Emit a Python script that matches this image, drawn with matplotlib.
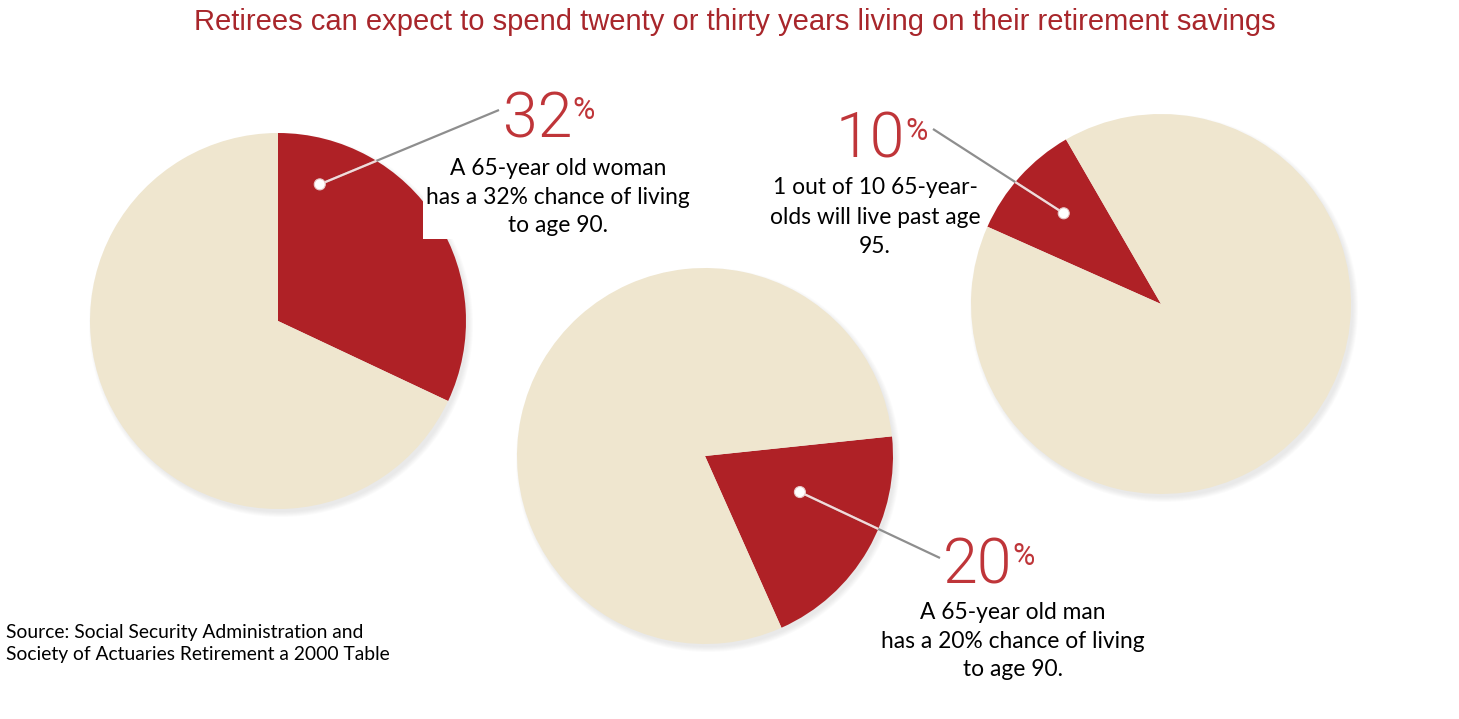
import matplotlib
matplotlib.use("Agg")
import matplotlib.pyplot as plt
from matplotlib.patches import Circle
import numpy as np

# ---- data ----
shares = [32, 20, 10]                       # percent in red slice
big_labels = ["32", "20", "10"]
descriptions = [
    "A 65-year old woman\nhas a 32% chance of living\nto age 90.",
    "A 65-year old man\nhas a 20% chance of living\nto age 90.",
    "1 out of 10 65-year-\nolds will live past age\n95.",
]
title = "Retirees can expect to spend twenty or thirty years living on their retirement savings"
source = "Source: Social Security Administration and\nSociety of Actuaries Retirement a 2000 Table"

# ---- layout / style ----
W, H = 1459, 719
RED = "#AF2126"
BEIGE = "#EFE6CF"
LABEL_RED = "#BF3539"
GRAY = "#8E8E8E"

def Y(y):
    return H - y

pies = [
    dict(center=(278, Y(321)), radius=188, start=90, ccw=False,
         dot=(73, 0.76), label_end=(499, Y(110)),
         big_xy=(503, Y(137)), desc_xy=(558, Y(158)), ls=1.45, box=True),
    dict(center=(705, Y(456)), radius=188, start=6, ccw=False,
         dot=(-20.8, 0.54), label_end=(940, Y(558)),
         big_xy=(943, Y(583)), desc_xy=(1013, Y(602)), ls=1.45, box=False),
    dict(center=(1161, Y(304)), radius=190, start=120, ccw=True,
         dot=(137, 0.70), label_end=(933, Y(129)),
         big_xy=(836, Y(158)), desc_xy=(875, Y(177)), ls=1.5, box=False),
]

fig = plt.figure(figsize=(W / 100, H / 100), dpi=100)
ax = fig.add_axes([0, 0, 1, 1])

for i, p in enumerate(pies):
    cx, cy = p["center"]
    r = p["radius"]
    # soft shadow
    for k in range(6):
        ax.add_patch(Circle((cx + 3, cy - 4), r + 4 - k, color="#9a9a9a",
                            alpha=0.035, lw=0, zorder=1))
    ax.pie([shares[i], 100 - shares[i]], colors=[RED, BEIGE],
           startangle=p["start"], counterclock=p["ccw"],
           center=(cx, cy), radius=r,
           wedgeprops=dict(linewidth=0, zorder=2))

    # leader line
    ang, frac = p["dot"]
    dx = cx + frac * r * np.cos(np.radians(ang))
    dy = cy + frac * r * np.sin(np.radians(ang))
    ex, ey = p["label_end"]
    ax.plot([dx, ex], [dy, ey], color=GRAY, lw=1.6, zorder=4,
            solid_capstyle="butt")
    # white part inside the pie
    vx, vy = ex - dx, ey - dy
    fx, fy = dx - cx, dy - cy
    a = vx * vx + vy * vy
    b = 2 * (fx * vx + fy * vy)
    c = fx * fx + fy * fy - r * r
    t = (-b + np.sqrt(b * b - 4 * a * c)) / (2 * a)
    ax.plot([dx, dx + t * vx], [dy, dy + t * vy], color="#F4DADA", lw=1.6,
            zorder=5, solid_capstyle="butt")
    ax.add_patch(Circle((dx, dy), 5.5, facecolor="white", edgecolor="#e8c8c8",
                        lw=0.8, zorder=6))

    # big percent label
    bx, by = p["big_xy"]
    t1 = ax.text(bx, by, big_labels[i], fontsize=45,
                 family=["Roboto", "Lato", "DejaVu Sans"],
                 fontweight=300, color=LABEL_RED, ha="left", va="baseline",
                 zorder=7)
    ax.annotate("%", xy=(1.0, 0.9), xycoords=t1, fontsize=22,
                family=["Roboto", "Lato", "DejaVu Sans"], fontweight=400,
                color=LABEL_RED, ha="left", va="top", zorder=7)

    # description
    tx, ty = p["desc_xy"]
    kw = {}
    if p["box"]:
        kw["bbox"] = dict(facecolor="white", edgecolor="none", pad=2)
    ax.text(tx, ty, descriptions[i], fontsize=16.4, family=["Lato", "DejaVu Sans"],
            color="black", ha="center", va="top", linespacing=p["ls"], zorder=8,
            **kw)

ax.text(W / 2 + 5, Y(22), title, fontsize=21, family=["Liberation Sans", "DejaVu Sans"],
        color="#A8262B", ha="center", va="center")
ax.text(6, Y(624), source, fontsize=13.9, family=["Lato", "DejaVu Sans"],
        color="black", ha="left", va="top", linespacing=1.35)

ax.set_xlim(0, W)
ax.set_ylim(0, H)
ax.set_aspect("equal", adjustable="box")
ax.axis("off")
fig.savefig("out.png", dpi=100, facecolor="white")
